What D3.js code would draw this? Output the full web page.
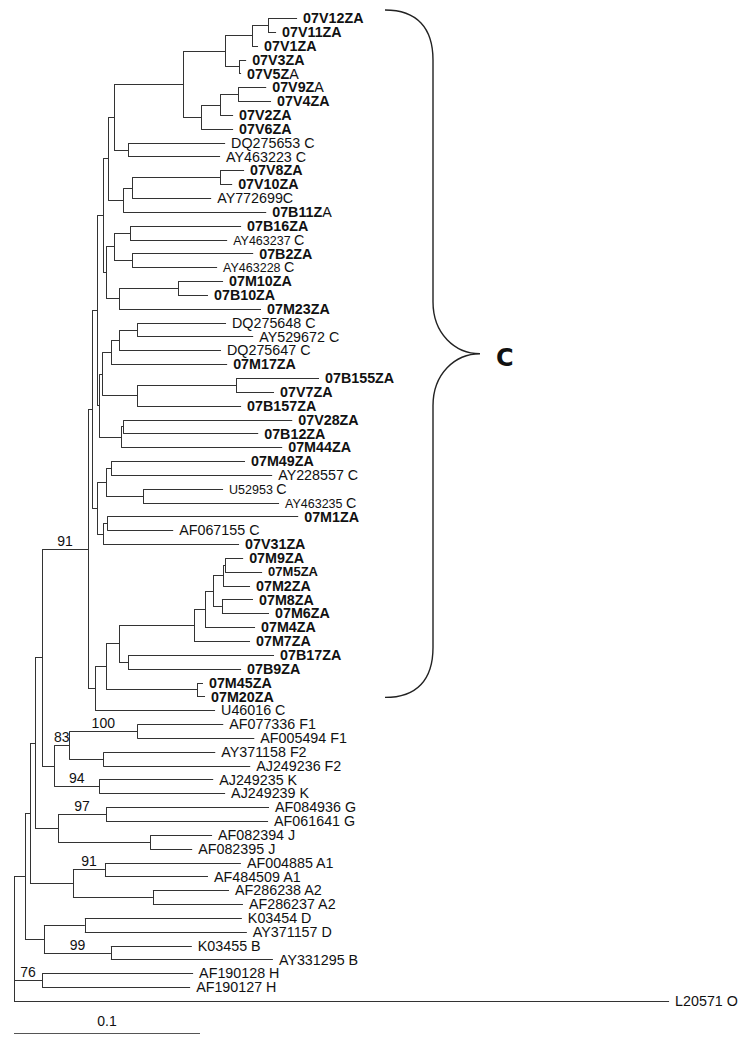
<!DOCTYPE html>
<html>
<head>
<meta charset="utf-8">
<script src="https://cdn.jsdelivr.net/npm/d3@7"></script>
<style>
  body { margin: 0; background: #fff; }
  svg { display: block; }
</style>
</head>
<body>
<svg id="tree-svg" width="752" height="1050"></svg>
<script>
// Tree data, written as Newick pieces (branch lengths in substitutions/site, internal labels = bootstrap)
var vGroup = "((((07V12ZA:0.0156,07V11ZA:0.0043):0.0086,07V1ZA:0.0032):0.0145,(07V3ZA:0.0038,07V5ZA:0.0011):0.0075):0.0226," +
             "(((07V9ZA:0.0151,07V4ZA:0.0177):0.0097,07V2ZA:0.0070):0.0102,07V6ZA:0.0172):0.0097)";
var g1b = "(" + vGroup + ":0.0371,(DQ275653_C:0.0522,AY463223_C:0.0495):0.0075)";
var g2 = "(((07V8ZA:0.0129,07V10ZA:0.0065):0.0473,AY772699C:0.0425):0.0048,07B11ZA:0.0769)";
var g3 = "((07B16ZA:0.0597,AY463237_C:0.0522):0.0086,(07B2ZA:0.0651,AY463228_C:0.0457):0.0097)";
var g4 = "((07M10ZA:0.0242,07B10ZA:0.0161):0.0317,07M23ZA:0.0763)";
var z1 = "((((DQ275648_C:0.0478,AY529672_C:0.0624):0.0097,DQ275647_C:0.0548):0.0043,07M17ZA:0.0624):0.0048," +
         "((07B155ZA:0.0446,07V7ZA:0.0204):0.0532,07B157ZA:0.0559):0.0188)";
var z2 = "((07V28ZA:0.0909,07B12ZA:0.0726):0.0011,07M44ZA:0.0866)";
var vn = "(((07M49ZA:0.0720,AY228557_C:0.0866):0.0027,(U52953_C:0.0430,AY463235_C:0.0731):0.0199):0.0048," +
         "((07M1ZA:0.1027,AF067155_C:0.0355):0.0022,07V31ZA:0.0731):0.0032)";
var mGroup = "((((((((07M9ZA:0.0097,07M5ZA:0.0199):0.0011,07M2ZA:0.0145):0.0054,(07M8ZA:0.0167,07M6ZA:0.0253):0.0048):0.0043," +
             "07M4ZA:0.0269):0.0059,07M7ZA:0.0301):0.0403,(07B17ZA:0.0785,07B9ZA:0.0608):0.0048):0.0070," +
             "(07M45ZA:0.0032,07M20ZA:0.0043):0.0489):0.0059,U46016_C:0.0645)";

var cladeC = "((((((" + g1b + ":0.0032," + g2 + ":0.0081):0.0027,(" + g3 + ":0.0043," + g4 + ":0.0070):0.0016):0.0032," +
             "(" + z1 + ":0.0016," + z2 + ":0.0118):0.0011):0.0027," + vn + ":0.0027):0.0022," + mGroup + ":0.0038)91";
var cladeFK = "(((AF077336_F1:0.0462,AF005494_F1:0.0629)100:0.0366,(AY371158_F2:0.0602,AJ249236_F2:0.0790):0.0183)83:0.0081," +
              "(AJ249235_K:0.0613,AJ249239_K:0.0677)94:0.0242)";
var cladeGJ = "((AF084936_G:0.0876,AF061641_G:0.0871)97:0.0258,(AF082394_J:0.0333,AF082395_J:0.0226):0.0495)";
var cladeA = "((AF004885_A1:0.0731,AF484509_A1:0.0554)91:0.0172,(AF286238_A2:0.0409,AF286237_A2:0.0484):0.0430)";
var cladeDB = "((K03454_D:0.0844,AY371157_D:0.0871):0.0220,(K03455_B:0.0435,AY331295_B:0.0871)99:0.0360)";
var cladeH = "(AF190128_H:0.0812,AF190127_H:0.0796)76";
var outgroup = "L20571_O:0.3522";

var newick = "(((((" + cladeC + ":0.0247," + cladeFK + ":0.0065):0.0038," + cladeGJ + ":0.0124):0.0027," +
             cladeA + ":0.0231):0.0027," + cladeDB + ":0.0102):0.0059," + cladeH + ":0.0151," + outgroup + ");";

var scaleBarValue = 0.1;
var braceLabel = "C";
var braceFirstLeaf = "07V12ZA", braceLastLeaf = "07M20ZA";

// Label styling: names where the last letter is set in regular weight, and accessions set smaller
var regularLastLetter = ["07V5ZA", "07V9ZA", "07B11ZA"];
var smallAccession = ["AY463237_C", "AY463228_C", "U52953_C", "AY463235_C"];
var smallBold = ["07M5ZA"];

var config = {
  rootX: 14,
  pxPerUnit: 1860,
  firstLeafY: 18,
  lastLeafY: 1001,
  labelGap: 6,
  fontSize: 14.3,
  lineColor: '#333',
};

// Minimal Newick parser
function parseNewick(s) {
  s = s.replace(/\s+/g, '');
  var i = 0;
  function node() {
    var n = {};
    if (s[i] === '(') {
      n.children = [];
      i++;
      n.children.push(node());
      while (s[i] === ',') { i++; n.children.push(node()); }
      i++; // closing paren
    }
    var name = '';
    while (i < s.length && ':,();'.indexOf(s[i]) < 0) name += s[i++];
    n.name = name;
    n.length = 0;
    if (s[i] === ':') {
      i++;
      var num = '';
      while (i < s.length && ',();'.indexOf(s[i]) < 0) num += s[i++];
      n.length = +num;
    }
    return n;
  }
  return node();
}

var root = d3.hierarchy(parseNewick(newick));
root.each(function(d) { d.dist = d.parent ? d.parent.dist + d.data.length : 0; });

var leaves = root.leaves();
var x = d3.scaleLinear().domain([0, 1]).range([config.rootX, config.rootX + config.pxPerUnit]);
var y = d3.scaleLinear().domain([0, leaves.length - 1]).range([config.firstLeafY, config.lastLeafY]);

leaves.forEach(function(d, i) { d.py = y(i); });
root.eachAfter(function(d) {
  if (d.children) d.py = (d.children[0].py + d.children[d.children.length - 1].py) / 2;
  d.px = x(d.dist);
});

var svg = d3.select('#tree-svg');
var g = svg.append('g');

// Horizontal branches
g.selectAll('line.h')
  .data(root.descendants().filter(function(d) { return d.parent; }))
  .enter().append('line')
  .attr('class', 'h')
  .attr('x1', function(d) { return d.parent.px; })
  .attr('x2', function(d) { return d.px; })
  .attr('y1', function(d) { return Math.round(d.py) + 0.5; })
  .attr('y2', function(d) { return Math.round(d.py) + 0.5; })
  .attr('stroke', config.lineColor)
  .attr('stroke-width', 1);

// Vertical connectors
g.selectAll('line.v')
  .data(root.descendants().filter(function(d) { return d.children; }))
  .enter().append('line')
  .attr('class', 'v')
  .attr('x1', function(d) { return Math.round(d.px) + 0.5; })
  .attr('x2', function(d) { return Math.round(d.px) + 0.5; })
  .attr('y1', function(d) { return Math.round(d.children[0].py) + 0.5; })
  .attr('y2', function(d) { return Math.round(d.children[d.children.length - 1].py) + 0.5; })
  .attr('stroke', config.lineColor)
  .attr('stroke-width', 1);

// Leaf labels
var labels = g.selectAll('text.leaf')
  .data(leaves)
  .enter().append('text')
  .attr('class', 'leaf')
  .attr('x', function(d) { return d.px + config.labelGap; })
  .attr('y', function(d) { return d.py; })
  .attr('dy', '0.36em')
  .attr('font-family', '"Liberation Sans", Arial, Helvetica, sans-serif')
  .attr('font-size', config.fontSize + 'px')
  .attr('fill', '#111');

labels.each(function(d) {
  var t = d3.select(this);
  var name = d.data.name;
  var isStudy = name.indexOf('07') === 0;
  if (regularLastLetter.indexOf(name) >= 0) {
    t.append('tspan').attr('font-weight', 'bold').text(name.slice(0, -1));
    t.append('tspan').text(name.slice(-1));
  } else if (smallAccession.indexOf(name) >= 0) {
    var parts = name.split('_');
    t.append('tspan').attr('font-size', (config.fontSize - 1.8) + 'px').text(parts[0] + ' ');
    t.append('tspan').text(parts[1]);
  } else if (isStudy) {
    t.attr('font-weight', 'bold')
      .attr('font-size', (smallBold.indexOf(name) >= 0 ? config.fontSize - 1.3 : config.fontSize) + 'px')
      .text(name);
  } else {
    t.text(name.replace('_', ' '));
  }
});

// Bootstrap values
g.selectAll('text.boot')
  .data(root.descendants().filter(function(d) { return d.children && d.parent && d.data.name; }))
  .enter().append('text')
  .attr('class', 'boot')
  .attr('x', function(d) { return (d.parent.px + d.px) / 2; })
  .attr('y', function(d) { return Math.round(d.py) - 3; })
  .attr('text-anchor', 'middle')
  .attr('font-family', '"Liberation Sans", Arial, Helvetica, sans-serif')
  .attr('font-size', '14px')
  .attr('fill', '#111')
  .text(function(d) { return d.data.name; });

// Scale bar
g.append('line')
  .attr('x1', x(0)).attr('x2', x(scaleBarValue))
  .attr('y1', 1033.5).attr('y2', 1033.5)
  .attr('stroke', '#555')
  .attr('stroke-width', 1);
g.append('text')
  .attr('x', (x(0) + x(scaleBarValue)) / 2)
  .attr('y', 1026)
  .attr('text-anchor', 'middle')
  .attr('font-family', '"Liberation Sans", Arial, Helvetica, sans-serif')
  .attr('font-size', '14px')
  .attr('fill', '#111')
  .text(scaleBarValue);

// Curly brace around the C clade
function drawBrace() {
  var first = leaves.find(function(d) { return d.data.name === braceFirstLeaf; });
  var last = leaves.find(function(d) { return d.data.name === braceLastLeaf; });
  var braceTop = first.py - 8, braceBottom = last.py + 1;
  var braceMid = (braceTop + braceBottom) / 2;
  var bx0 = 385, bx1 = 433, bx2 = 480;
  var p = d3.path();
  p.moveTo(bx0, braceTop);
  p.bezierCurveTo(bx0 + 32, braceTop, bx1, braceTop + 18, bx1, braceTop + 50);
  p.lineTo(bx1, braceMid - 52);
  p.bezierCurveTo(bx1, braceMid - 20, bx1 + 22, braceMid, bx2, braceMid);
  p.bezierCurveTo(bx1 + 22, braceMid, bx1, braceMid + 20, bx1, braceMid + 52);
  p.lineTo(bx1, braceBottom - 50);
  p.bezierCurveTo(bx1, braceBottom - 18, bx0 + 32, braceBottom, bx0, braceBottom);
  g.append('path')
    .attr('d', p.toString())
    .attr('fill', 'none')
    .attr('stroke', '#222')
    .attr('stroke-width', 1.4);
  g.append('text')
    .attr('x', bx2 + 16)
    .attr('y', braceMid + 4)
    .attr('dy', '0.36em')
    .attr('font-family', '"DejaVu Sans", Verdana, sans-serif')
    .attr('font-weight', 'bold')
    .attr('font-size', '24px')
    .attr('fill', '#111')
    .text(braceLabel);
}
drawBrace();
</script>
</body>
</html>
